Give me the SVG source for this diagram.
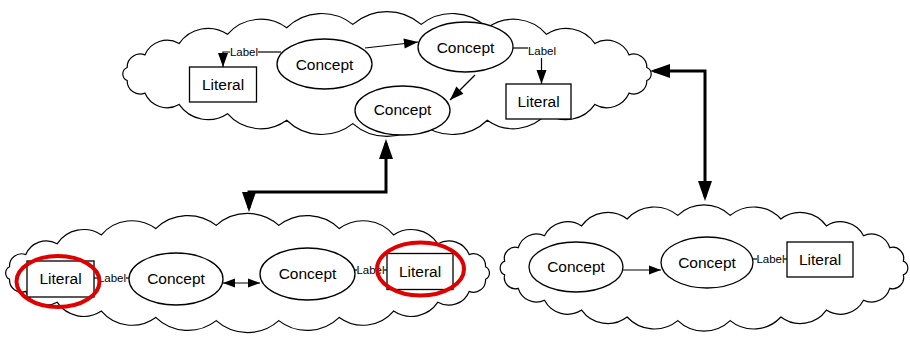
<svg xmlns="http://www.w3.org/2000/svg" width="910" height="344" viewBox="0 0 910 344">
<style>
.cloud{fill:#fff;stroke:#000;stroke-width:1.2}
.node{fill:#fff;stroke:#000;stroke-width:1.3}
.t{font-family:"Liberation Sans",Arial,sans-serif;font-size:15.5px;text-anchor:middle;fill:#000}
.lbl{font-family:"Liberation Sans",Arial,sans-serif;font-size:11.5px;text-anchor:middle;fill:#000}
.c{fill:none;stroke:#000;stroke-width:1.2}
.thick{fill:none;stroke:#000;stroke-width:3}
.red{fill:none;stroke:#e00000;stroke-width:4}
</style>
<defs>
<marker id="m" markerUnits="userSpaceOnUse" markerWidth="14" markerHeight="10" refX="14" refY="5" orient="auto-start-reverse" overflow="visible"><path d="M0,0 L14,5 L0,10 z" fill="#000"/></marker>
<marker id="s" markerUnits="userSpaceOnUse" markerWidth="12" markerHeight="9" refX="12" refY="4.5" orient="auto-start-reverse" overflow="visible"><path d="M0,0 L12,4.5 L0,9 z" fill="#000"/></marker>
<marker id="b" markerUnits="userSpaceOnUse" markerWidth="20" markerHeight="14" refX="16" refY="7" orient="auto-start-reverse" overflow="visible"><path d="M0,0 L20,7 L0,14 z" fill="#000"/></marker>
</defs>

<g id="cloud-top">
<path class="cloud" d="M646.8 67.5 A7 7 0 0 1 646.8 80.5 A13 13 0 0 1 629.1 93.1 A24 24 0 0 1 594.9 104.4 A35 35 0 0 1 546.5 113.7 A44 44 0 0 1 487.3 120.2 A50 50 0 0 1 421.2 123.6 A52 52 0 0 1 352.8 123.6 A50 50 0 0 1 286.7 120.2 A44 44 0 0 1 227.5 113.7 A35 35 0 0 1 179.1 104.4 A24 24 0 0 1 144.9 93.1 A13 13 0 0 1 127.2 80.5 A7 7 0 0 1 127.2 67.5 A13 13 0 0 1 144.9 54.9 A24 24 0 0 1 179.1 43.6 A35 35 0 0 1 227.5 34.3 A44 44 0 0 1 286.7 27.8 A50 50 0 0 1 352.8 24.4 A52 52 0 0 1 421.2 24.4 A50 50 0 0 1 487.3 27.8 A44 44 0 0 1 546.5 34.3 A35 35 0 0 1 594.9 43.6 A24 24 0 0 1 629.1 54.9 A13 13 0 0 1 646.8 67.5 Z"/>
</g>
<g id="cloud-left">
<path class="cloud" d="M485.5 266.7 A7 7 0 0 1 485.5 279.3 A12 12 0 0 1 469.2 291.4 A22 22 0 0 1 437.9 302.2 A32 32 0 0 1 393.6 311.1 A40 40 0 0 1 339.3 317.4 A46 46 0 0 1 278.8 320.6 A47 47 0 0 1 216.2 320.6 A46 46 0 0 1 155.7 317.4 A40 40 0 0 1 101.4 311.1 A32 32 0 0 1 57.1 302.2 A22 22 0 0 1 25.8 291.4 A12 12 0 0 1 9.6 279.3 A7 7 0 0 1 9.6 266.7 A12 12 0 0 1 25.8 254.6 A22 22 0 0 1 57.1 243.8 A32 32 0 0 1 101.4 234.9 A40 40 0 0 1 155.7 228.6 A46 46 0 0 1 216.2 225.4 A47 47 0 0 1 278.8 225.4 A46 46 0 0 1 339.3 228.6 A40 40 0 0 1 393.6 234.9 A32 32 0 0 1 437.9 243.8 A22 22 0 0 1 469.2 254.6 A12 12 0 0 1 485.5 266.7 Z"/>
</g>
<g id="cloud-right">
<path class="cloud" d="M903.3 261.1 A7.5 7.5 0 0 1 903.3 274.9 A11 11 0 0 1 889.7 288.3 A19 19 0 0 1 863.5 300.3 A26 26 0 0 1 826.4 310.1 A32 32 0 0 1 780.9 317 A37 37 0 0 1 730.2 320.6 A38 38 0 0 1 677.8 320.6 A37 37 0 0 1 627.1 317 A32 32 0 0 1 581.6 310.1 A26 26 0 0 1 544.5 300.3 A19 19 0 0 1 518.3 288.3 A11 11 0 0 1 504.7 274.9 A7.5 7.5 0 0 1 504.7 261.1 A11 11 0 0 1 518.3 247.7 A19 19 0 0 1 544.5 235.7 A26 26 0 0 1 581.6 225.9 A32 32 0 0 1 627.1 219 A37 37 0 0 1 677.8 215.4 A38 38 0 0 1 730.2 215.4 A37 37 0 0 1 780.9 219 A32 32 0 0 1 826.4 225.9 A26 26 0 0 1 863.5 235.7 A19 19 0 0 1 889.7 247.7 A11 11 0 0 1 903.3 261.1 Z"/>
</g>

<g id="connectors">
<path class="c" d="M258 52 H281"/>
<path class="c" d="M230 52 H223 V67" marker-end="url(#m)"/>
<path class="c" d="M365 48 L418 42" marker-end="url(#m)"/>
<path class="c" d="M475 75 L450 100" marker-end="url(#m)"/>
<path class="c" d="M513 48 H528"/>
<path class="c" d="M541.5 58 V84" marker-end="url(#m)"/>
<path class="thick" d="M654 71 H705 V197" marker-start="url(#b)" marker-end="url(#b)"/>
<path class="thick" d="M386 143 V192 H249 V208" marker-start="url(#b)" marker-end="url(#b)"/>
<path class="c" d="M94 278 H98"/>
<path class="c" d="M126 278 H129"/>
<path class="c" d="M223 283 H260" marker-start="url(#s)" marker-end="url(#s)"/>
<path class="c" d="M354 270 H357"/>
<path class="c" d="M384 270 H387"/>
<path class="c" d="M623 270 H661" marker-end="url(#s)"/>
<path class="c" d="M753 259 H757"/>
<path class="c" d="M784 259 H787"/>
<text class="lbl" x="244" y="56">Label</text>
<text class="lbl" x="542" y="55">Label</text>
<text class="lbl" x="112" y="282">Label</text>
<text class="lbl" x="370.5" y="274">Label</text>
<text class="lbl" x="770.5" y="263">Label</text>
</g>

<g id="top-literal-1">
<rect class="node" x="189.5" y="67" width="67" height="35"/>
<text class="t" x="223" y="90">Literal</text>
</g>
<g id="top-concept-1">
<ellipse class="node" cx="324.5" cy="64" rx="47.5" ry="25"/>
<text class="t" x="324.5" y="69.5">Concept</text>
</g>
<g id="top-concept-2">
<ellipse class="node" cx="465.5" cy="47" rx="47.5" ry="25"/>
<text class="t" x="465.5" y="52.5">Concept</text>
</g>
<g id="top-concept-3">
<ellipse class="node" cx="402.5" cy="110.5" rx="47.5" ry="24.5"/>
<text class="t" x="402.5" y="114.5">Concept</text>
</g>
<g id="top-literal-2">
<rect class="node" x="506" y="84" width="65" height="35"/>
<text class="t" x="538.5" y="107">Literal</text>
</g>

<g id="left-literal-1">
<rect class="node" x="27" y="261" width="67" height="36"/>
<text class="t" x="60.5" y="284">Literal</text>
<ellipse class="red" cx="58" cy="281.5" rx="41.5" ry="25.5"/>
</g>
<g id="left-concept-1">
<ellipse class="node" cx="176" cy="279" rx="47" ry="26"/>
<text class="t" x="176" y="284">Concept</text>
</g>
<g id="left-concept-2">
<ellipse class="node" cx="307.5" cy="274" rx="47.5" ry="26"/>
<text class="t" x="307.5" y="279">Concept</text>
</g>
<g id="left-literal-2">
<rect class="node" x="387" y="253.5" width="66" height="36"/>
<text class="t" x="420" y="277">Literal</text>
<ellipse class="red" cx="420.5" cy="269" rx="43.5" ry="26.5"/>
</g>

<g id="right-concept-1">
<ellipse class="node" cx="576" cy="267" rx="47" ry="25"/>
<text class="t" x="576" y="272">Concept</text>
</g>
<g id="right-concept-2">
<ellipse class="node" cx="707" cy="262.5" rx="46" ry="25.5"/>
<text class="t" x="707" y="267.5">Concept</text>
</g>
<g id="right-literal">
<rect class="node" x="787" y="242" width="66" height="35"/>
<text class="t" x="820" y="265">Literal</text>
</g>
</svg>
